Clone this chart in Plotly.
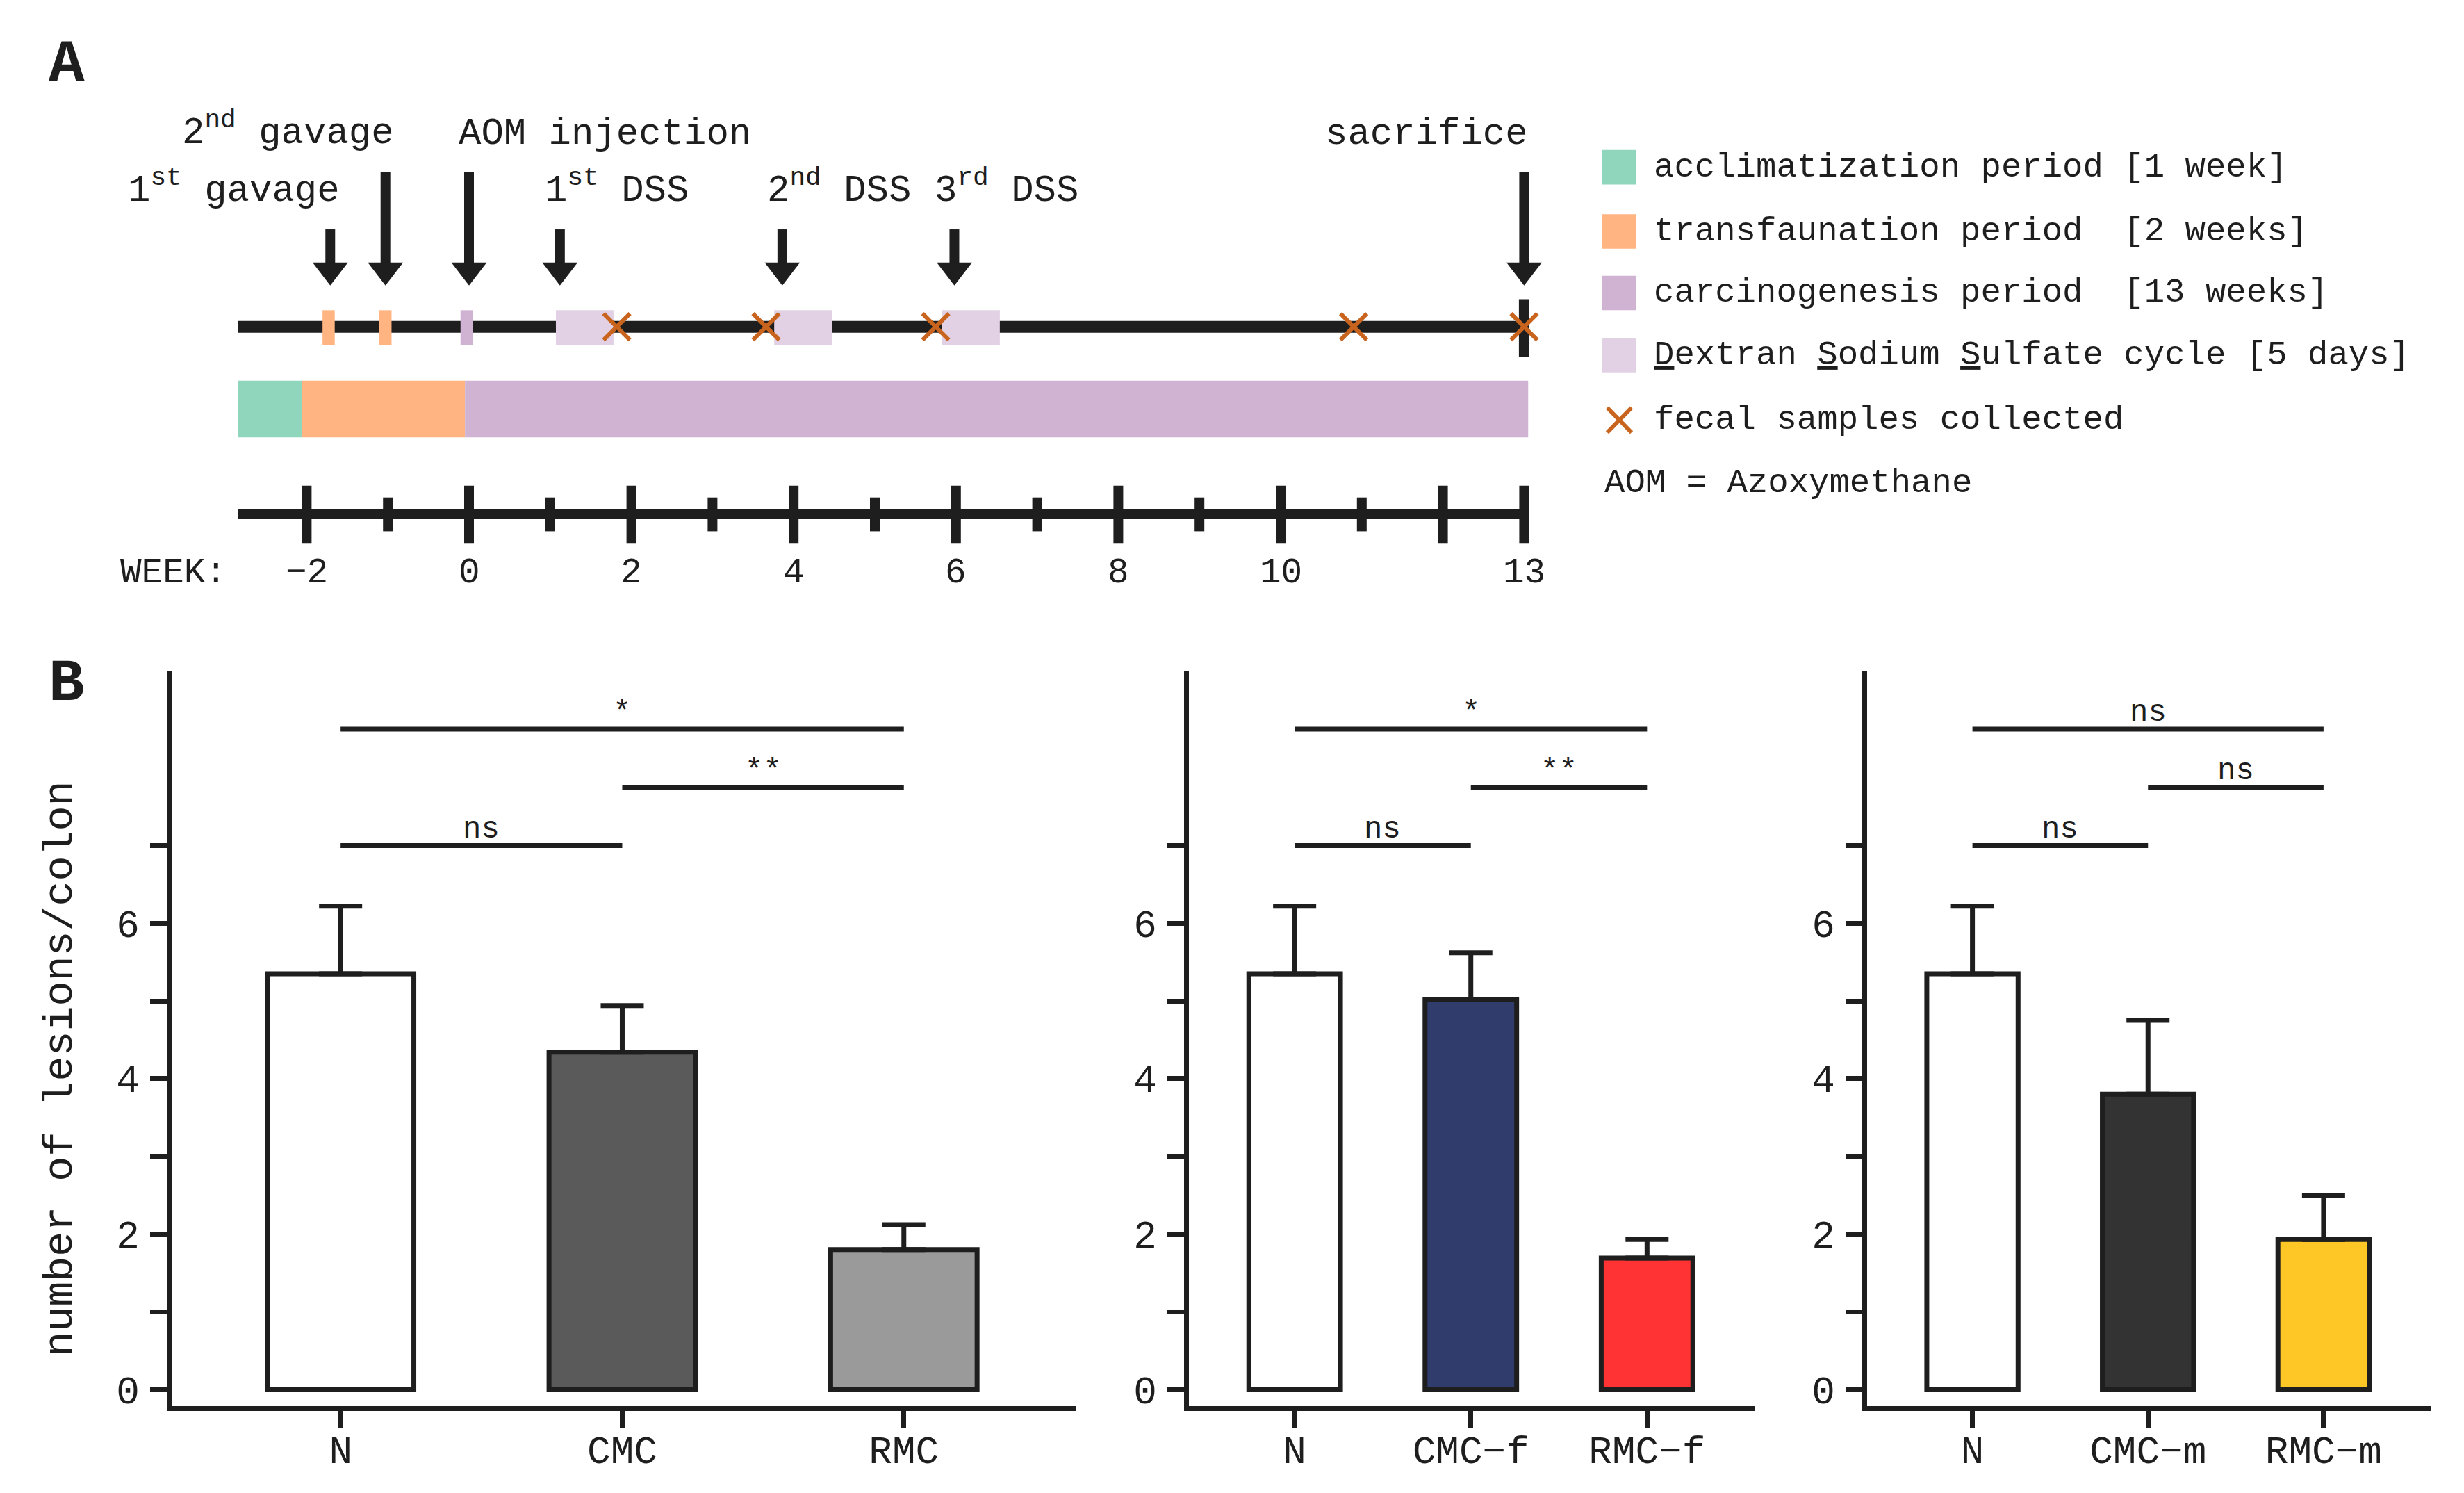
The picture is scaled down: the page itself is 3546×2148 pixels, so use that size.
import plotly.graph_objects as go

W, H = 3546, 2148
FONT = "Liberation Mono, Courier New, monospace"
INK = "#1e1e1e"

# ---------------- Panel B data ----------------
groups_1 = ["N", "CMC", "RMC"]
means_1 = [5.35, 4.34, 1.80]
sem_1 = [0.87, 0.60, 0.32]
colors_1 = ["#ffffff", "#5a5a5a", "#9a9a9a"]

groups_2 = ["N", "CMC\u2212f", "RMC\u2212f"]
means_2 = [5.35, 5.02, 1.69]
sem_2 = [0.87, 0.60, 0.24]
colors_2 = ["#ffffff", "#2f3c6c", "#ff3333"]

groups_3 = ["N", "CMC\u2212m", "RMC\u2212m"]
means_3 = [5.35, 3.80, 1.93]
sem_3 = [0.87, 0.95, 0.57]
colors_3 = ["#ffffff", "#333333", "#ffc726"]

sig_pairs = [(0, 1), (1, 2), (0, 2)]
sig_levels = [7.0, 7.75, 8.5]
sig_labels_1 = ["ns", "**", "*"]
sig_labels_2 = ["ns", "**", "*"]
sig_labels_3 = ["ns", "ns", "ns"]

y_tickvals = [0, 1, 2, 3, 4, 5, 6, 7]
y_ticktext = ["0", "", "2", "", "4", "", "6", ""]
y_title = "number of lesions/colon"

# ---------------- Panel A data ----------------
week_ticks = list(range(-2, 14))
week_major = [-2, 0, 2, 4, 6, 8, 10, 12, 13]
week_labels = {-2: "\u22122", 0: "0", 2: "2", 4: "4", 6: "6", 8: "8", 10: "10", 13: "13"}
timeline_start, timeline_end = -2.85, 13.0

period_names = ["acclimatization period [1 week]",
                "transfaunation period  [2 weeks]",
                "carcinogenesis period  [13 weeks]"]
period_starts = [-2.85, -2.06, -0.05]
period_ends = [-2.06, -0.05, 13.05]
period_colors = ["#8fd6bd", "#ffb482", "#d0b3d3"]

dss_name = "<u>D</u>extran <u>S</u>odium <u>S</u>ulfate cycle [5 days]"
dss_starts = [1.07, 3.76, 5.83]
dss_length = 0.71
dss_color = "#e2d0e4"

gavage_weeks = [-1.73, -1.03]
aom_weeks = [-0.03]
fecal_weeks = [1.82, 3.66, 5.75, 10.9, 13.0]
fecal_name = "fecal samples collected"
fecal_color = "#c8641e"

event_labels = ["1<sup>st</sup> gavage", "2<sup>nd</sup> gavage", "AOM injection",
                "1<sup>st</sup> DSS", "2<sup>nd</sup> DSS", "3<sup>rd</sup> DSS", "sacrifice"]
event_weeks = [-1.71, -1.03, 0.0, 1.12, 3.86, 5.98, 13.0]
event_long = [False, True, True, False, False, False, True]
event_anchor = ["right", "right", "left", "left", "left", "left", "right"]
event_xshift = [16, 14, -17, -24, -24, -30, 8]

abbrev_note = "AOM = Azoxymethane"


def PX(x):
    return x / W


def PY(y):
    return 1 - y / H


fig = go.Figure()

# ---------------- Panel B ----------------
xdoms = [(239 / W, 1540 / W), (1703 / W, 2517 / W), (2679 / W, 3490 / W)]
ydom = (PY(2027), PY(964))
datasets = [
    (groups_1, means_1, sem_1, colors_1, sig_labels_1),
    (groups_2, means_2, sem_2, colors_2, sig_labels_2),
    (groups_3, means_3, sem_3, colors_3, sig_labels_3),
]
layout_axes = {}
for i, (g, m, s, c, sl) in enumerate(datasets):
    xa = "x" if i == 0 else f"x{i + 1}"
    ya = "y" if i == 0 else f"y{i + 1}"
    fig.add_trace(go.Bar(
        x=list(range(len(g))), y=m, width=0.52,
        marker=dict(color=c, line=dict(color=INK, width=7)),
        error_y=dict(type="data", array=s, arrayminus=[0] * len(s), symmetric=False,
                     color=INK, thickness=7, width=31),
        xaxis=xa, yaxis=ya, showlegend=False, hoverinfo="skip"))
    for (a, b), lev, lab in zip(sig_pairs, sig_levels, sl):
        fig.add_shape(type="line", xref=xa, yref=ya, x0=a, x1=b, y0=lev, y1=lev,
                      line=dict(color=INK, width=7))
        fig.add_annotation(xref=xa, yref=ya, x=(a + b) / 2, y=lev, text=lab,
                           showarrow=False, yanchor="bottom", yshift=-3,
                           font=dict(family=FONT, size=44, color=INK))
    xkey = "xaxis" if i == 0 else f"xaxis{i + 1}"
    ykey = "yaxis" if i == 0 else f"yaxis{i + 1}"
    layout_axes[xkey] = dict(domain=list(xdoms[i]), range=[-0.6, 2.61], tickmode="array",
                             tickvals=list(range(len(g))), ticktext=g, ticks="outside",
                             ticklen=24, tickwidth=7, tickcolor=INK, showline=True,
                             linewidth=7, linecolor=INK, showgrid=False, zeroline=False,
                             tickfont=dict(family=FONT, size=56, color=INK), anchor=ya,
                             ticklabelstandoff=-16, fixedrange=True)
    layout_axes[ykey] = dict(domain=list(ydom), range=[-0.213, 9.24], tickmode="array",
                             tickvals=y_tickvals, ticktext=y_ticktext, ticks="outside",
                             ticklen=24, tickwidth=7, tickcolor=INK, showline=True,
                             linewidth=7, linecolor=INK, showgrid=False, zeroline=False,
                             tickfont=dict(family=FONT, size=56, color=INK), anchor=xa,
                             ticklabelstandoff=4, fixedrange=True)

fig.add_annotation(xref="paper", yref="paper", x=PX(79), y=PY(1539), text=y_title,
                   textangle=-90, showarrow=False, xanchor="center", yanchor="middle",
                   font=dict(family=FONT, size=60, color=INK))

# ---------------- Panel A (weeks axis x4, paper-like y4) ----------------
W0, PPW = 667.0, 116.8  # pixel of week 0, pixels per week
layout_axes["xaxis4"] = dict(domain=[0, 1], range=[-W0 / PPW, (W - W0) / PPW], visible=False,
                             anchor="y4", fixedrange=True)
layout_axes["yaxis4"] = dict(domain=[0, 1], range=[0, 1], visible=False, anchor="x4",
                             fixedrange=True)

TL_Y = 465
# main timeline
fig.add_shape(type="line", xref="x4", yref="paper", x0=timeline_start, x1=timeline_end,
              y0=PY(TL_Y), y1=PY(TL_Y), line=dict(color=INK, width=17), layer="below")
# sacrifice end tick
fig.add_shape(type="line", xref="x4", yref="paper", x0=timeline_end, x1=timeline_end,
              y0=PY(425), y1=PY(508), line=dict(color=INK, width=15), layer="below")
# DSS cycles
for s0 in dss_starts:
    fig.add_shape(type="rect", xref="x4", yref="paper", x0=s0, x1=s0 + dss_length,
                  y0=PY(491), y1=PY(441), fillcolor=dss_color, line=dict(width=0), layer="below")
# gavage and AOM marks
for wk in gavage_weeks:
    fig.add_shape(type="rect", xref="x4", yref="paper", x0=wk - 0.075, x1=wk + 0.075,
                  y0=PY(491), y1=PY(441), fillcolor=period_colors[1], line=dict(width=0), layer="below")
for wk in aom_weeks:
    fig.add_shape(type="rect", xref="x4", yref="paper", x0=wk - 0.075, x1=wk + 0.075,
                  y0=PY(491), y1=PY(441), fillcolor=period_colors[2], line=dict(width=0), layer="below")
# period band
for s0, e0, col in zip(period_starts, period_ends, period_colors):
    fig.add_shape(type="rect", xref="x4", yref="paper", x0=s0, x1=e0,
                  y0=PY(625), y1=PY(543), fillcolor=col, line=dict(width=0), layer="below")
# week scale
AX_Y = 736
fig.add_shape(type="line", xref="x4", yref="paper", x0=timeline_start, x1=timeline_end,
              y0=PY(AX_Y), y1=PY(AX_Y), line=dict(color=INK, width=15), layer="below")
for wk in week_ticks:
    if wk in week_major:
        y0, y1 = 695, 778
    else:
        y0, y1 = 712, 761
    fig.add_shape(type="line", xref="x4", yref="paper", x0=wk, x1=wk, y0=PY(y0), y1=PY(y1),
                  line=dict(color=INK, width=14), layer="below")
    if wk in week_labels:
        fig.add_annotation(xref="x4", yref="paper", x=wk, y=PY(821), text=week_labels[wk],
                           showarrow=False, xanchor="center", yanchor="middle",
                           font=dict(family=FONT, size=51, color=INK))
fig.add_annotation(xref="paper", yref="paper", x=PX(163), y=PY(821), text="WEEK:",
                   showarrow=False, xanchor="left", yanchor="middle",
                   font=dict(family=FONT, size=51, color=INK))

# event arrows
for lab, wk, lng, anc, xs in zip(event_labels, event_weeks, event_long, event_anchor, event_xshift):
    top = 241 if lng else 324
    fig.add_shape(type="line", xref="x4", yref="paper", x0=wk, x1=wk, y0=PY(top), y1=PY(385),
                  line=dict(color=INK, width=14), layer="below")
    ly = 186 if lng else 270
    ysh = 6 if "<sup>" in lab else 0
    fig.add_annotation(xref="x4", yref="paper", x=wk, y=PY(ly), text=lab, showarrow=False,
                       xanchor=anc, yanchor="middle", xshift=xs, yshift=ysh,
                       font=dict(family=FONT, size=54, color=INK))
fig.add_trace(go.Scatter(x=event_weeks, y=[PY(383)] * len(event_weeks), mode="markers",
                         marker=dict(symbol="triangle-down", size=44, color=INK, line=dict(width=0)),
                         xaxis="x4", yaxis="y4", showlegend=False, hoverinfo="skip"))
# fecal samples
fig.add_trace(go.Scatter(x=fecal_weeks, y=[PY(TL_Y)] * len(fecal_weeks), mode="markers",
                         marker=dict(symbol="x-thin", size=38, line=dict(color=fecal_color, width=6)),
                         xaxis="x4", yaxis="y4", showlegend=False, hoverinfo="skip"))

# ---------------- Legend (custom) ----------------
leg_rows = [234, 327, 416, 506, 600, 691]
leg_names = period_names + [dss_name]
leg_cols = period_colors + [dss_color]
for yy, nm, col in zip(leg_rows[:4], leg_names, leg_cols):
    fig.add_shape(type="rect", xref="paper", yref="paper", x0=PX(2298), x1=PX(2347),
                  y0=PY(yy + 25), y1=PY(yy - 25), fillcolor=col, line=dict(width=0))
    fig.add_annotation(xref="paper", yref="paper", x=PX(2370), y=PY(yy), text=nm,
                       showarrow=False, xanchor="left", yanchor="middle",
                       font=dict(family=FONT, size=49, color=INK))
# fecal X legend
yy = leg_rows[4]
for (xa0, ya0, xa1, ya1) in [(2305, yy - 18, 2340, yy + 18), (2305, yy + 18, 2340, yy - 18)]:
    fig.add_shape(type="line", xref="paper", yref="paper", x0=PX(xa0), y0=PY(ya0),
                  x1=PX(xa1), y1=PY(ya1), line=dict(color=fecal_color, width=6))
fig.add_annotation(xref="paper", yref="paper", x=PX(2370), y=PY(yy), text=fecal_name,
                   showarrow=False, xanchor="left", yanchor="middle",
                   font=dict(family=FONT, size=49, color=INK))
fig.add_annotation(xref="paper", yref="paper", x=PX(2299), y=PY(leg_rows[5]), text=abbrev_note,
                   showarrow=False, xanchor="left", yanchor="middle",
                   font=dict(family=FONT, size=49, color=INK))

# panel letters
for letter, ly in [("A", 86), ("B", 982)]:
    fig.add_annotation(xref="paper", yref="paper", x=PX(88), y=PY(ly), text=f"<b>{letter}</b>",
                       showarrow=False, xanchor="center", yanchor="middle",
                       font=dict(family=FONT, size=86, color=INK))

fig.update_layout(width=W, height=H, margin=dict(l=0, r=0, t=0, b=0, pad=0),
                  paper_bgcolor="white", plot_bgcolor="rgba(0,0,0,0)",
                  showlegend=False, font=dict(family=FONT, color=INK), **layout_axes)

fig.write_html("out.html")
